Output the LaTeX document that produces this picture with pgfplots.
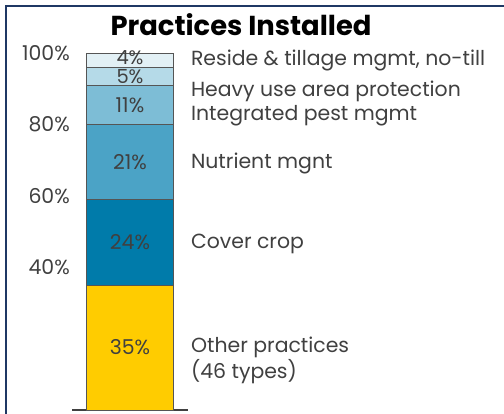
\documentclass[border=0pt]{standalone}
\usepackage{pgfplots}
\pgfplotsset{compat=1.18}
\usepackage{fontspec}
\setmainfont{Poppins}
\definecolor{navyc}{HTML}{1F3864}
\definecolor{cOther}{HTML}{FFCC00}
\definecolor{cCover}{HTML}{007BAA}
\definecolor{cNutr}{HTML}{4BA3C6}
\definecolor{cPest}{HTML}{7DBDD6}
\definecolor{cHeavy}{HTML}{B5DAE8}
\definecolor{cResid}{HTML}{E2F0F5}
\definecolor{edgec}{HTML}{555555}
\definecolor{txtc}{HTML}{404040}
\tikzset{barlab/.style={font=\fontsize{20.5}{24}\selectfont, text=txtc},
         sidelab/.style={font=\fontsize{20.5}{25.5}\selectfont, text=txtc, anchor=base west, inner sep=0pt, align=left}}
\begin{document}
\begin{tikzpicture}
\useasboundingbox (0bp,0bp) rectangle (504bp,414bp);
\draw[navyc, line width=2.2bp] (6bp,-2bp) -- (6bp,408bp) -- (510bp,408bp);
\node[anchor=base, font=\fontsize{27.5}{30}\selectfont\bfseries] at (241bp,378bp) {Practices Installed};
\begin{axis}[
  at={(72bp,4bp)}, anchor=south west,
  width=116bp, height=357bp, scale only axis,
  xmin=-0.667, xmax=0.667, ymin=0, ymax=100,
  ybar stacked, bar width=87bp,
  axis x line*=bottom, axis y line*=left,
  y axis line style={draw=none},
  x axis line style={draw=txtc, line width=2.5bp},
  xtick=\empty,
  ytick={40,60,80,100},
  yticklabels={40\%,60\%,80\%,100\%},
  major tick length=0pt,
  yticklabel style={font=\fontsize{20.5}{24}\selectfont, text=txtc, inner sep=0pt, xshift=-2bp},
  clip=false,
]
\addplot[fill=cOther, draw=edgec, line width=0.8bp] coordinates {(0,35)};
\addplot[fill=cCover, draw=edgec, line width=0.8bp] coordinates {(0,24)};
\addplot[fill=cNutr, draw=edgec, line width=0.8bp] coordinates {(0,21)};
\addplot[fill=cPest, draw=edgec, line width=0.8bp] coordinates {(0,11)};
\addplot[fill=cHeavy, draw=edgec, line width=0.8bp] coordinates {(0,5)};
\addplot[fill=cResid, draw=edgec, line width=0.8bp] coordinates {(0,4)};
\coordinate (l35) at (axis cs:0,17.5);
\coordinate (l24) at (axis cs:0,47);
\coordinate (l21) at (axis cs:0,69.5);
\coordinate (l11) at (axis cs:0,85.5);
\coordinate (l5) at (axis cs:0,93.3);
\coordinate (l4) at (axis cs:0,98.6);
\node[sidelab] at (axis cs:0.7,96.4) {Reside \& tillage mgmt, no-till};
\node[sidelab] at (axis cs:0.7,87.8) {Heavy use area protection};
\node[sidelab] at (axis cs:0.7,81.0) {Integrated pest mgmt};
\node[sidelab] at (axis cs:0.7,67.7) {Nutrient mgnt};
\node[sidelab] at (axis cs:0.7,45.3) {Cover crop};
\node[sidelab] at (axis cs:0.7,16.1) {Other practices};
\node[sidelab] at (axis cs:0.7,8.9) {(46 types)};
\end{axis}
\node[barlab] at (l35) {35\%};
\node[barlab] at (l24) {24\%};
\node[barlab] at (l21) {21\%};
\node[barlab] at (l11) {11\%};
\node[barlab, inner sep=0pt, font=\fontsize{19.5}{22}\selectfont] at (l5) {5\%};
\node[barlab, inner sep=0pt, font=\fontsize{19.5}{22}\selectfont] at (l4) {4\%};
\end{tikzpicture}
\end{document}
